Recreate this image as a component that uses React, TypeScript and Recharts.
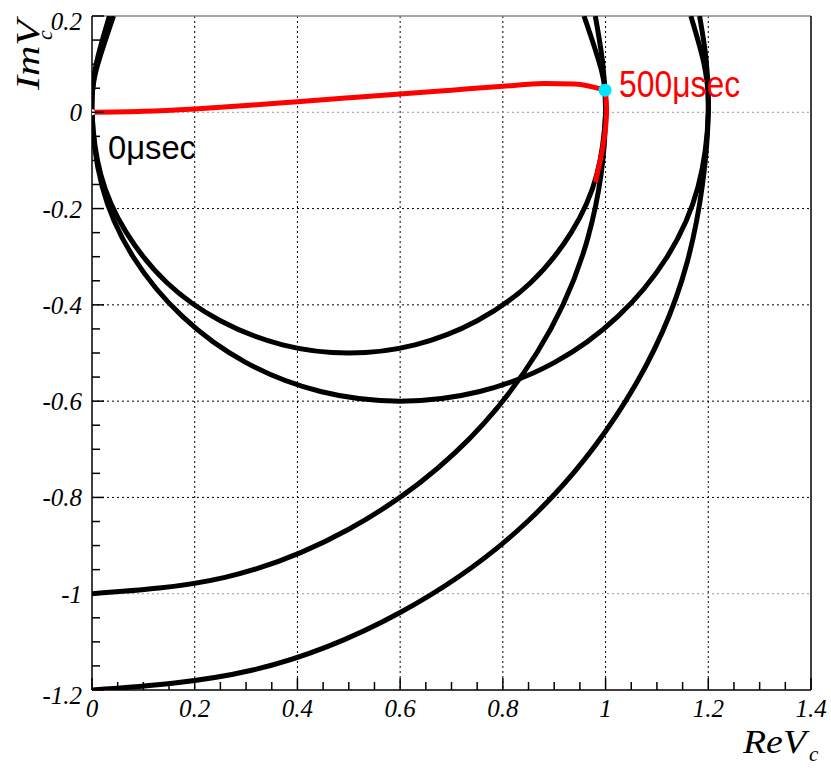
import { LineChart, Line, XAxis, YAxis, CartesianGrid, ReferenceLine } from "recharts";

// curves (Re, Im)
const circleSmall = [
  { x: 0.042, y: 0.2 }, { x: 0.008, y: 0.087 }, { x: 0, y: 0 }, { x: 0.017, y: -0.129 },
  { x: 0.067, y: -0.25 }, { x: 0.146, y: -0.354 }, { x: 0.25, y: -0.433 }, { x: 0.371, y: -0.483 },
  { x: 0.5, y: -0.5 }, { x: 0.629, y: -0.483 }, { x: 0.75, y: -0.433 }, { x: 0.854, y: -0.354 },
  { x: 0.933, y: -0.25 }, { x: 0.983, y: -0.129 }, { x: 1, y: 0 }, { x: 0.992, y: 0.087 },
  { x: 0.958, y: 0.2 },
];
const circleBig = [
  { x: 0.034, y: 0.2 }, { x: 0.009, y: 0.104 }, { x: 0, y: 0 }, { x: 0.02, y: -0.155 },
  { x: 0.08, y: -0.3 }, { x: 0.176, y: -0.424 }, { x: 0.3, y: -0.52 }, { x: 0.445, y: -0.58 },
  { x: 0.6, y: -0.6 }, { x: 0.755, y: -0.58 }, { x: 0.9, y: -0.52 }, { x: 1.024, y: -0.424 },
  { x: 1.12, y: -0.3 }, { x: 1.18, y: -0.155 }, { x: 1.2, y: 0 }, { x: 1.191, y: 0.104 },
  { x: 1.166, y: 0.2 },
];
const arcOne = [
  { x: 0, y: -1 }, { x: 0.259, y: -0.966 }, { x: 0.5, y: -0.866 }, { x: 0.707, y: -0.707 },
  { x: 0.866, y: -0.5 }, { x: 0.966, y: -0.259 }, { x: 1, y: 0 }, { x: 0.98, y: 0.2 },
];
const arcOneTwo = [
  { x: 0, y: -1.2 }, { x: 0.311, y: -1.159 }, { x: 0.6, y: -1.039 }, { x: 0.849, y: -0.849 },
  { x: 1.039, y: -0.6 }, { x: 1.159, y: -0.311 }, { x: 1.2, y: 0 }, { x: 1.183, y: 0.2 },
];
const pathFlat = [
  { x: 0, y: 0 }, { x: 0.1, y: 0.002 }, { x: 0.2, y: 0.007 }, { x: 0.3, y: 0.014 },
  { x: 0.4, y: 0.022 }, { x: 0.5, y: 0.03 }, { x: 0.6, y: 0.038 }, { x: 0.7, y: 0.046 },
  { x: 0.8, y: 0.054 }, { x: 0.88, y: 0.06 }, { x: 0.94, y: 0.059 }, { x: 0.999, y: 0.046 },
];
const pathDown = [
  { x: 0.999, y: 0.046 }, { x: 1.002, y: 0 }, { x: 0.995, y: -0.07 }, { x: 0.981, y: -0.141 },
];
const startPoint = [{ x: 0, y: 0, label: "0μsec" }];
const endPoint = [{ x: 0.999, y: 0.046, label: "500μsec" }];

const xTicks = [
  0, 0.05, 0.1, 0.15, 0.2, 0.25, 0.3, 0.35, 0.4, 0.45, 0.5, 0.55, 0.6, 0.65, 0.7,
  0.75, 0.8, 0.85, 0.9, 0.95, 1, 1.05, 1.1, 1.15, 1.2, 1.25, 1.3, 1.35, 1.4,
];
const yTicks = [
  -1.2, -1.15, -1.1, -1.05, -1, -0.95, -0.9, -0.85, -0.8, -0.75, -0.7, -0.65, -0.6, -0.55,
  -0.5, -0.45, -0.4, -0.35, -0.3, -0.25, -0.2, -0.15, -0.1, -0.05, 0, 0.05, 0.1, 0.15, 0.2,
];
const xGrid = [0.2, 0.4, 0.6, 0.8, 1, 1.2];
const yGrid = [-0.8, -0.6, -0.4, -0.2];
const yGridGray = [-1, 0];

const serif = "'Liberation Serif', 'Times New Roman', serif";
const sans = "'Liberation Sans', Arial, sans-serif";

const isMajor = (v: number) => Math.abs(Math.round(v * 5) - v * 5) < 1e-6;
const fmt = (v: number) => String(Math.round(v * 10) / 10);

const XTick = (props: any) => {
  const { x, y, payload } = props;
  const v = payload.value;
  const major = isMajor(v);
  return (
    <g>
      <line x1={x} x2={x} y1={y} y2={y - (major ? 12 : 8)} stroke="#000" strokeWidth={1.5} />
      {major && (
        <text x={x} y={y + 27} textAnchor="middle" fontFamily={serif} fontStyle="italic" fontSize={25} fill="#000">
          {fmt(v)}
        </text>
      )}
    </g>
  );
};

const YTick = (props: any) => {
  const { x, y, payload } = props;
  const v = payload.value;
  const major = isMajor(v);
  let dy = 9;
  if (v > 0.19) dy = 14;
  if (v < -1.19) dy = 14;
  return (
    <g>
      <line x1={x} x2={x + (major ? 12 : 8)} y1={y} y2={y} stroke="#000" strokeWidth={1.5} />
      {major && (
        <text x={x - 10} y={y + dy} textAnchor="end" fontFamily={serif} fontStyle="italic" fontSize={25} fill="#000">
          {fmt(v)}
        </text>
      )}
    </g>
  );
};

const XTitle = (props: any) => {
  const vb = props.viewBox;
  return (
    <text x={vb.x + vb.width - 68} y={vb.y + 63} fontFamily={serif} fontStyle="italic" fontSize={34} fill="#000">
      <tspan textLength={63} lengthAdjust="spacingAndGlyphs">ReV</tspan>
      <tspan dx={3} dy={8} fontSize={21}>c</tspan>
    </text>
  );
};

const YTitle = () => (
  <text transform="translate(39, 90) rotate(-90)" fontFamily={serif} fontStyle="italic" fontSize={34} fill="#000">
    <tspan textLength={70} lengthAdjust="spacingAndGlyphs">ImV</tspan>
    <tspan dx={-20} dy={13} fontSize={22}>c</tspan>
  </text>
);

const StartLabel = (props: any) => (
  <text x={props.x + 16} y={props.y + 47} fontFamily={sans} fontSize={33} fill="#000" textLength={88} lengthAdjust="spacingAndGlyphs">
    0μsec
  </text>
);

const EndLabel = (props: any) => (
  <text x={props.x + 14} y={props.y + 7} fontFamily={sans} fontSize={36} fill="#ff0000" textLength={121} lengthAdjust="spacingAndGlyphs">
    500μsec
  </text>
);

export default function App() {
  return (
    <div style={{ position: "absolute", left: 0, top: 0, background: "#fff" }}>
      <LineChart width={831} height={770} margin={{ top: 16, right: 20, left: 0, bottom: 0 }}>
        <CartesianGrid
          verticalValues={xGrid}
          horizontalValues={yGrid}
          stroke="#000"
          strokeDasharray="2 3"
          strokeWidth={1}
        />
        {yGridGray.map((v) => (
          <ReferenceLine key={v} y={v} stroke="#999" strokeDasharray="2 3" strokeWidth={1} />
        ))}
        <ReferenceLine y={0.2} stroke="#888" strokeWidth={1.5} />
        <ReferenceLine x={1.4} stroke="#000" strokeWidth={1.5} />
        <XAxis
          dataKey="x"
          type="number"
          domain={[0, 1.4]}
          ticks={xTicks}
          interval={0}
          allowDataOverflow
          height={80}
          tickSize={0}
          tickMargin={0}
          tickLine={false}
          axisLine={{ stroke: "#000", strokeWidth: 1.5 }}
          tick={<XTick />}
          label={<XTitle />}
        />
        <YAxis
          dataKey="y"
          type="number"
          domain={[-1.2, 0.2]}
          ticks={yTicks}
          interval={0}
          allowDataOverflow
          width={92}
          tickSize={0}
          tickMargin={0}
          tickLine={false}
          axisLine={{ stroke: "#000", strokeWidth: 1.5 }}
          tick={<YTick />}
          label={<YTitle />}
        />
        <Line data={circleSmall} dataKey="y" type="natural" stroke="#000" strokeWidth={5} dot={false} isAnimationActive={false} />
        <Line data={circleBig} dataKey="y" type="natural" stroke="#000" strokeWidth={5} dot={false} isAnimationActive={false} />
        <Line data={arcOne} dataKey="y" type="natural" stroke="#000" strokeWidth={5} dot={false} isAnimationActive={false} />
        <Line data={arcOneTwo} dataKey="y" type="natural" stroke="#000" strokeWidth={5} dot={false} isAnimationActive={false} />
        <Line data={pathFlat} dataKey="y" type="monotone" stroke="#ff0000" strokeWidth={5} dot={false} isAnimationActive={false} />
        <Line data={pathDown} dataKey="y" type="natural" stroke="#ff0000" strokeWidth={5} strokeLinecap="round" dot={false} isAnimationActive={false} />
        <Line data={startPoint} dataKey="y" stroke="none" dot={false} label={<StartLabel />} isAnimationActive={false} />
        <Line
          data={endPoint}
          dataKey="y"
          stroke="none"
          dot={{ r: 6.5, fill: "#00e5ff", stroke: "none" }}
          label={<EndLabel />}
          isAnimationActive={false}
        />
      </LineChart>
    </div>
  );
}
